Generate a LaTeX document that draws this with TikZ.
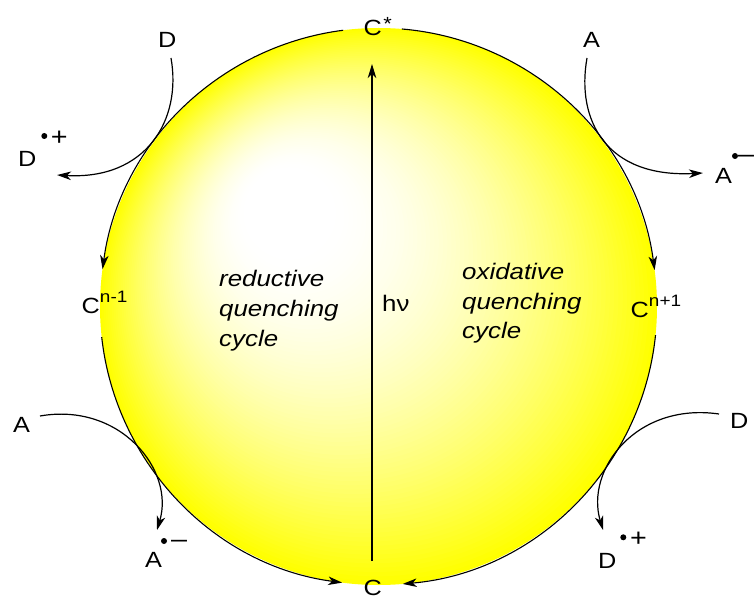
\documentclass[tikz,border=0pt]{standalone}
\usepackage{fontspec}
\setmainfont{Liberation Sans}[FakeStretch=1.15]
\usetikzlibrary{calc,arrows.meta}
\definecolor{ylw}{RGB}{255,255,0}
\begin{document}
\begin{tikzpicture}[x=1pt,y=-1pt,
  lab/.style={inner sep=0pt, anchor=base west, font=\fontsize{22}{25}\selectfont},
  sym/.style={inner sep=0pt, anchor=base, font=\fontsize{25}{28}\selectfont},
  itl/.style={inner sep=0pt, anchor=base west, font=\fontsize{22.5}{30}\selectfont\itshape},
  hv/.style={inner sep=0pt, anchor=base west, font=\fontsize{22.5}{30}\selectfont},
  tip/.style={-{Stealth[length=14pt,width=8.5pt,inset=4pt]}},
  arr/.style={line width=1.2pt, tip},
  ring/.style={line width=1.1pt},
  radical/.style={fill=black}
]
\useasboundingbox (0,0) rectangle (755,599);
% shaded sphere
\coordinate (O) at (378.5,306.5);
\coordinate (F) at (272,195);
\foreach \i in {90,89,...,1}{
  \pgfmathsetmacro\t{\i/90}
  \pgfmathsetmacro\q{max(0,(\t-0.16)/0.84)}
  \pgfmathsetmacro\p{min(100,100*\q^1.6)}
  \pgfmathsetmacro\r{\t*278.5}
  \fill[ylw!\p!white] ($(F)!\t!(O)$) circle[radius=\r pt];
}
% ring arcs
\draw[ring,tip] ($(O)+(97.3:278.5pt)$) arc[start angle=97.3, end angle=172.3, radius=278.5pt];
\draw[ring,tip] ($(O)+(186.3:278.5pt)$) arc[start angle=186.3, end angle=262.5, radius=278.5pt];
\draw[ring,tip] ($(O)+(85.2:278.5pt)$) arc[start angle=85.2, end angle=7.5, radius=278.5pt];
\draw[ring,tip] ($(O)+(-5.9:278.5pt)$) arc[start angle=-5.9, end angle=-85, radius=278.5pt];
% ring labels
\node[lab] (Cs) at (363.5,36) {C\hspace{1.5pt}\raisebox{5.5pt}{\fontsize{19}{19}\selectfont *}};
\node[lab] (Cb) at (363.5,595.5) {C};
\node[lab] (Cm) at (81.5,313) {C\raisebox{10.5pt}{\fontsize{16.5}{18}\selectfont n-1}};
\node[lab] (Cp) at (630.5,317) {C\raisebox{10.5pt}{\fontsize{16.5}{18}\selectfont n+1}};
% h nu arrow
\coordinate (hvA) at (372,561);
\coordinate (hvB) at (372,64);
\draw[arr] (hvA) -- (hvB);
\node[hv] (hnu) at (382,311) {hν};
% cycle texts
\node[itl] (r1) at (219,286) {reductive};
\node[itl] (r2) at (219,316) {quenching};
\node[itl] (r3) at (219,346) {cycle};
\node[itl] (o1) at (462,279) {oxidative};
\node[itl] (o2) at (462,309) {quenching};
\node[itl] (o3) at (462,338) {cycle};
% top left: D -> D.+
\node[lab] (D1) at (158,48) {D};
\node[lab] (D1r) at (18,167) {D};
\fill[radical] (44.3,136) circle[radius=3pt];
\node[sym] (D1c) at (59.3,145.5) {+};
\coordinate (tl0) at (171,58);
\coordinate (tl1) at (57,175);
\draw[arr] (tl0) .. controls (182,120) and (146,180) .. (tl1);
% top right: A -> A.-
\node[lab] (A1) at (583,48) {A};
\node[lab] (A1r) at (715,183) {A};
\fill[radical] (735,156) circle[radius=3pt];
\node[sym] (A1c) at (746,162.8) {–};
\coordinate (tr0) at (587,58);
\coordinate (tr1) at (703,173);
\draw[arr] (tr0) .. controls (576,120) and (606,178) .. (tr1);
% bottom left: A -> A.-
\node[lab] (A2) at (13,432) {A};
\node[lab] (A2r) at (145,567) {A};
\fill[radical] (164,541) circle[radius=3pt];
\node[sym] (A2c) at (179,547.8) {–};
\coordinate (bl0) at (40,416);
\coordinate (bl1) at (157,530);
\draw[arr] (bl0) .. controls (120,402) and (175,470) .. (bl1);
% bottom right: D -> D.+
\node[lab] (D2) at (730,428) {D};
\node[lab] (D2r) at (598,568) {D};
\fill[radical] (623.3,537.3) circle[radius=3pt];
\node[sym] (D2c) at (638.5,546) {+};
\coordinate (br0) at (719,414);
\coordinate (br1) at (603,530);
\draw[arr] (br0) .. controls (636,402) and (585,470) .. (br1);
\end{tikzpicture}
\end{document}
